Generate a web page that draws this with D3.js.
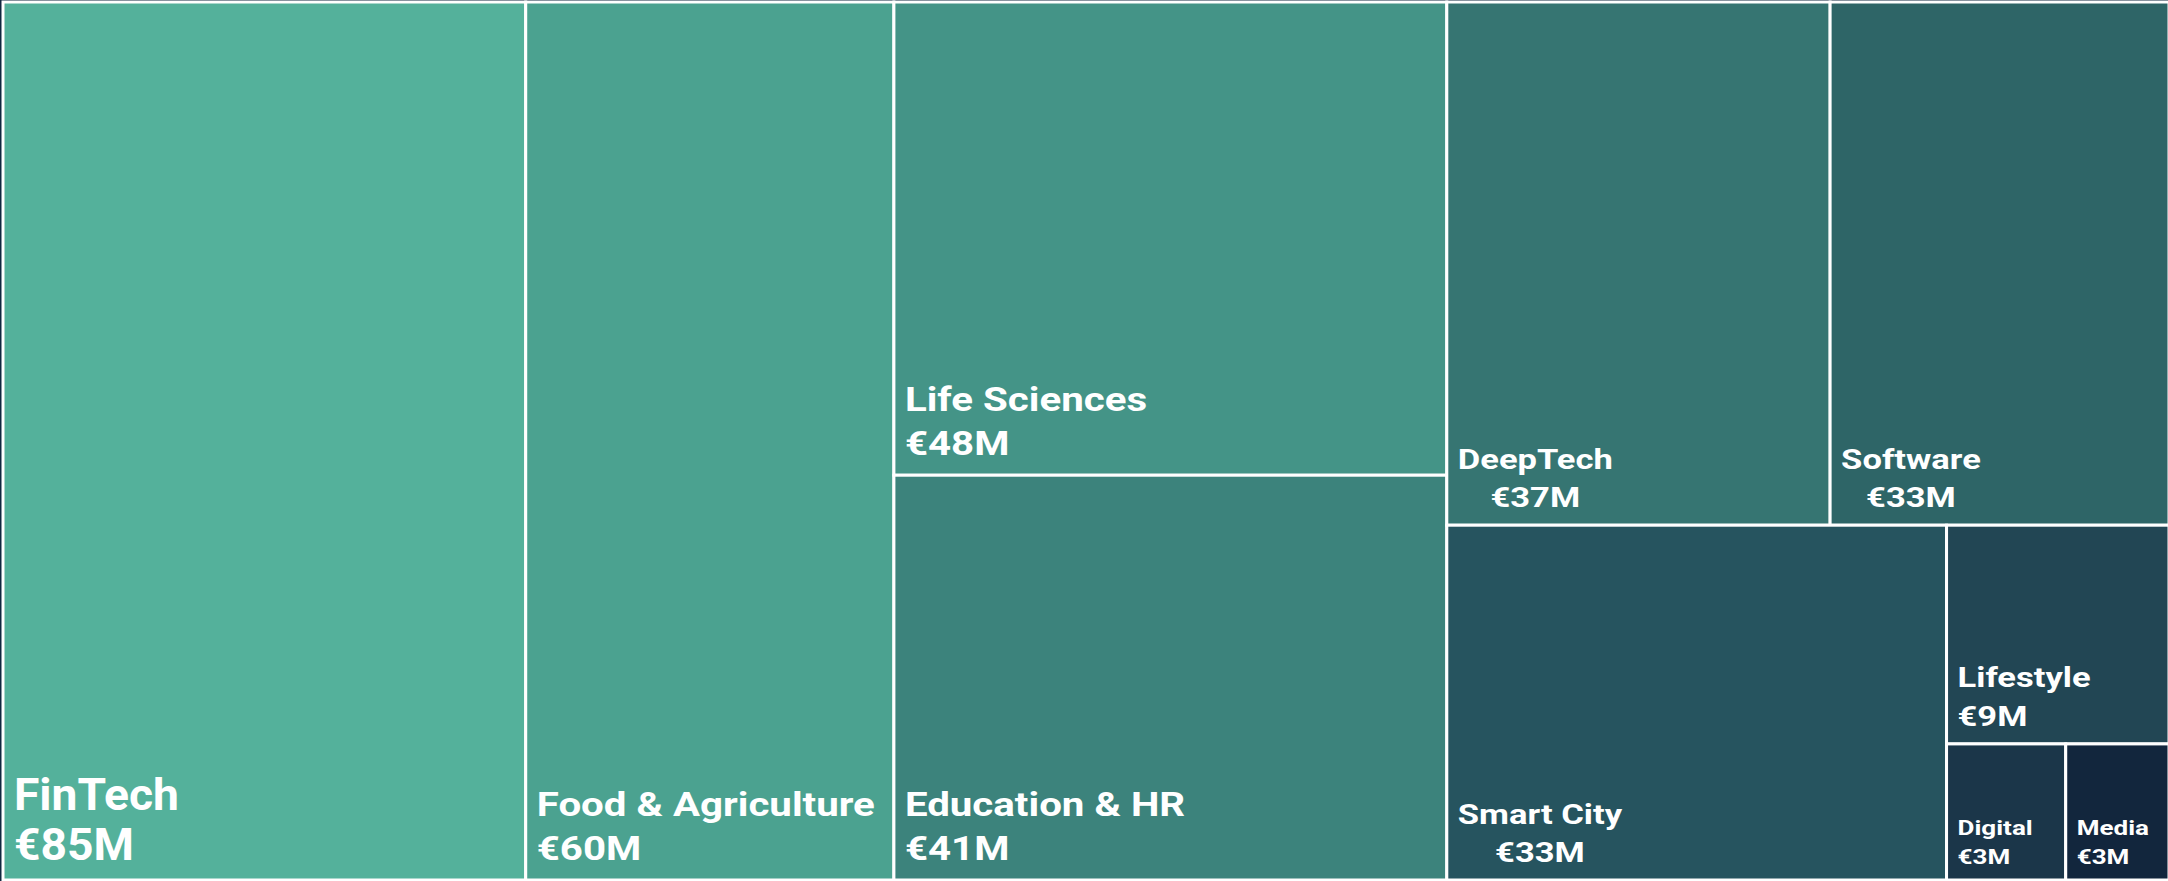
<!DOCTYPE html>
<html lang="en">
<head>
  <meta charset="UTF-8">
  <title>Funding by Sector</title>
  <script src="https://d3js.org/d3.v7.min.js"></script>
  <style>
    html, body {
      margin: 0;
      padding: 0;
      background: #10263f;
      overflow: hidden;
    }
    svg {
      display: block;
    }
    .cell {
      stroke: #ffffff;
      stroke-width: 3;
    }
    .label, .value {
      font-family: Roboto, "Noto Sans", sans-serif;
      font-weight: 700;
      fill: #ffffff;
    }
  </style>
</head>
<body>
  <svg id="chart"></svg>
  <script>
    // sectors and amounts raised (€ millions, labels show them rounded)
    const sectors = ["FinTech", "Food & Agriculture", "Life Sciences", "Education & HR", "DeepTech",
                     "Software", "Smart City", "Lifestyle", "Digital", "Media"];
    const amounts = [84.9, 59.8, 48.4, 41.4, 37.1, 32.8, 32.8, 9.0, 3.0, 2.6];

    const palette = ["#54b19b", "#4ba290", "#449487", "#3c837c", "#367572",
                     "#2e6567", "#26545f", "#224654", "#1b3649", "#12263d"];

    // these three have their value centred under the name
    const centeredValue = new Set(["DeepTech", "Software", "Smart City"]);

    const width = 2168;
    const height = 881;

    const svg = d3.select("#chart")
      .attr("width", width)
      .attr("height", height);

    svg.append("rect")
      .attr("width", width)
      .attr("height", height)
      .attr("fill", "#10263f");

    const color = d3.scaleOrdinal(sectors, palette);

    // text style by cell size: font size, horizontal stretch, line gap, bottom offset
    const tier = d3.scaleThreshold().domain([5, 40, 80]).range([
      {fs: 21, sx: 1.24, gap: 29, bottom: 16},
      {fs: 27, sx: 1.28, gap: 38.5, bottom: 18},
      {fs: 33, sx: 1.22, gap: 44, bottom: 20},
      {fs: 44, sx: 1.05, gap: 50, bottom: 20}
    ]);

    // squarify with a ratio below 1 (d3 clamps its own to >= 1)
    function squarify(ratio) {
      return function(parent, x0, y0, x1, y1) {
        const nodes = parent.children;
        const n = nodes.length;
        let value = parent.value, i0 = 0, i1 = 0;
        while (i0 < n) {
          const dx = x1 - x0, dy = y1 - y0;
          let sumValue = nodes[i1++].value;
          let minValue = sumValue, maxValue = sumValue;
          const alpha = Math.max(dy / dx, dx / dy) / (value * ratio);
          let beta = sumValue * sumValue * alpha;
          let minRatio = Math.max(maxValue / beta, beta / minValue);
          for (; i1 < n; ++i1) {
            const nodeValue = nodes[i1].value;
            sumValue += nodeValue;
            if (nodeValue < minValue) minValue = nodeValue;
            if (nodeValue > maxValue) maxValue = nodeValue;
            beta = sumValue * sumValue * alpha;
            const newRatio = Math.max(maxValue / beta, beta / minValue);
            if (newRatio > minRatio) { sumValue -= nodeValue; break; }
            minRatio = newRatio;
          }
          const row = {value: sumValue, children: nodes.slice(i0, i1)};
          if (dx < dy) d3.treemapDice(row, x0, y0, x1, y0 += dy * sumValue / value);
          else d3.treemapSlice(row, x0, y0, x0 += dx * sumValue / value, y1);
          value -= sumValue;
          i0 = i1;
        }
      };
    }

    const data = sectors.map((s, i) => ({name: s, value: amounts[i]}));
    const root = d3.hierarchy({children: data})
      .sum(d => d.value || 0)
      .sort((a, b) => b.value - a.value);

    d3.treemap()
      .tile(squarify(0.8))
      .size([2166, 878])
      .round(false)(root);

    const g = svg.append("g").attr("transform", "translate(3,2)");

    const leaf = g.selectAll("g.leaf")
      .data(root.leaves())
      .join("g")
        .attr("class", "leaf");

    leaf.append("rect")
      .attr("class", "cell")
      .attr("x", d => d.x0)
      .attr("y", d => d.y0)
      .attr("width", d => d.x1 - d.x0)
      .attr("height", d => d.y1 - d.y0)
      .attr("fill", d => color(d.data.name));

    leaf.each(function(d) {
      const t = tier(d.value);
      const x = d.x0 + 11;
      const valueY = d.y1 - t.bottom;
      const labelY = valueY - t.gap;
      const sel = d3.select(this);

      const label = sel.append("text")
        .attr("class", "label")
        .attr("transform", `translate(${x},${labelY}) scale(${t.sx},1)`)
        .style("font-size", t.fs + "px")
        .text(d.data.name);

      const val = sel.append("text")
        .attr("class", "value")
        .style("font-size", t.fs + "px")
        .text(`€${Math.round(d.value)}M`);

      if (centeredValue.has(d.data.name)) {
        const w = label.node().getComputedTextLength() * t.sx;
        val.attr("text-anchor", "middle")
          .attr("transform", `translate(${x + w / 2},${valueY}) scale(${t.sx},1)`);
      } else {
        val.attr("transform", `translate(${x},${valueY}) scale(${t.sx},1)`);
      }
    });
  </script>
</body>
</html>
